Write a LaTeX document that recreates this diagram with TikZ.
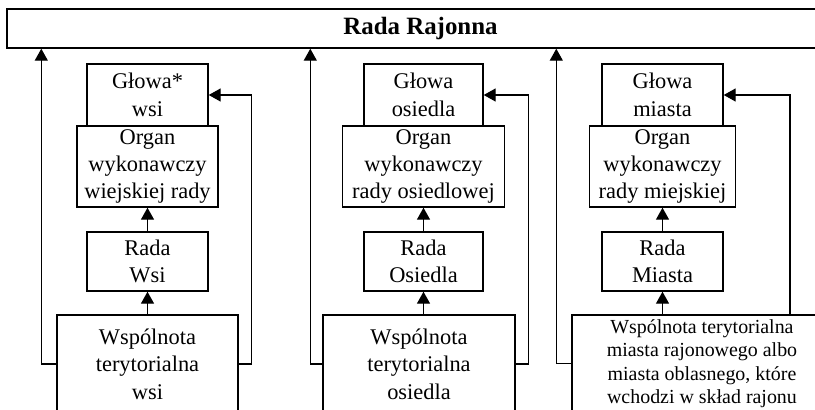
\documentclass[tikz,border=0pt]{standalone}
\usepackage{fontspec}
\setmainfont{Liberation Serif}
\usetikzlibrary{arrows.meta,positioning}

\tikzset{
  boxStyle/.style={draw, line width=1.4bp, inner sep=0pt, align=center,
    font=\fontsize{22.5pt}{27.5pt}\selectfont},
  arrowStyle/.style={line width=1.4bp, -{Triangle[length=12bp,width=13bp]}},
}

\begin{document}
\begin{tikzpicture}[x=1bp, y=-1bp]
    \useasboundingbox (0,0) rectangle (815,409);
    \clip (0,0) rectangle (815,409);

    % Rada Rajonna
    \node[boxStyle, minimum width=827bp, minimum height=39bp,
        font=\fontsize{25pt}{28pt}\selectfont\bfseries] (radaRajonna) at (420.5,28.5) {Rada Rajonna};

    % wies
    \node[boxStyle, minimum width=121bp, minimum height=62bp] (glowaWsi) at (147.5,95) {Głowa*\\wsi};
    \node[boxStyle, minimum width=141bp, minimum height=81bp] (organWsi) at (147.5,166.5) {Organ\\wykonawczy\\wiejskiej rady};
    \node[boxStyle, minimum width=121bp, minimum height=59bp] (radaWsi) at (147.5,261.5) {Rada\\Wsi};
    \node[boxStyle, minimum width=181bp, minimum height=98bp] (wspWsi) at (147.5,364) {Wspólnota\\terytorialna\\wsi};

    \draw[arrowStyle] (radaWsi) -- (organWsi);
    \draw[arrowStyle] (wspWsi) -- (radaWsi);
    \draw[arrowStyle] (wspWsi.west) -- ++(-15,0) coordinate (lewyWsi) -- (lewyWsi |- radaRajonna.south);
    \draw[arrowStyle] (wspWsi.east) -- ++(13,0) |- (glowaWsi.east);

    % osiedle
    \node[boxStyle, minimum width=119bp, minimum height=62bp] (glowaOs) at (423.5,95) {Głowa\\osiedla};
    \node[boxStyle, minimum width=162bp, minimum height=81bp] (organOs) at (423.5,166.5) {Organ\\wykonawczy\\rady osiedlowej};
    \node[boxStyle, minimum width=119bp, minimum height=59bp] (radaOs) at (423.5,261.5) {Rada\\Osiedla};
    \node[boxStyle, minimum width=192bp, minimum height=98bp] (wspOs) at (419,364) {Wspólnota\\terytorialna\\osiedla};

    \draw[arrowStyle] (radaOs) -- (organOs);
    \draw[arrowStyle] (wspOs.north -| radaOs.south) -- (radaOs.south);
    \draw[arrowStyle] (wspOs.west) -- ++(-12,0) coordinate (lewyOs) -- (lewyOs |- radaRajonna.south);
    \draw[arrowStyle] (wspOs.east) -- ++(13,0) |- (glowaOs.east);

    % miasto
    \node[boxStyle, minimum width=121bp, minimum height=62bp] (glowaM) at (662.5,95) {Głowa\\miasta};
    \node[boxStyle, minimum width=146bp, minimum height=81bp] (organM) at (662.5,166.5) {Organ\\wykonawczy\\rady miejskiej};
    \node[boxStyle, minimum width=121bp, minimum height=59bp] (radaM) at (662.5,261.5) {Rada\\Miasta};
    \node[boxStyle, minimum width=260bp, minimum height=97bp,
        font=\fontsize{20pt}{23.5pt}\selectfont] (wspM) at (702,363.5)
        {Wspólnota terytorialna\\miasta rajonowego albo\\miasta oblasnego, które\\wchodzi w skład rajonu};

    \draw[arrowStyle] (radaM) -- (organM);
    \draw[arrowStyle] (wspM.north -| radaM.south) -- (radaM.south);
    \draw[arrowStyle] (wspM.west) -- ++(-15,0) coordinate (lewyM) -- (lewyM |- radaRajonna.south);
    \coordinate (prawyM) at (790,0);
    \draw[arrowStyle] (prawyM |- wspM.north) |- (glowaM.east);
\end{tikzpicture}
\end{document}
